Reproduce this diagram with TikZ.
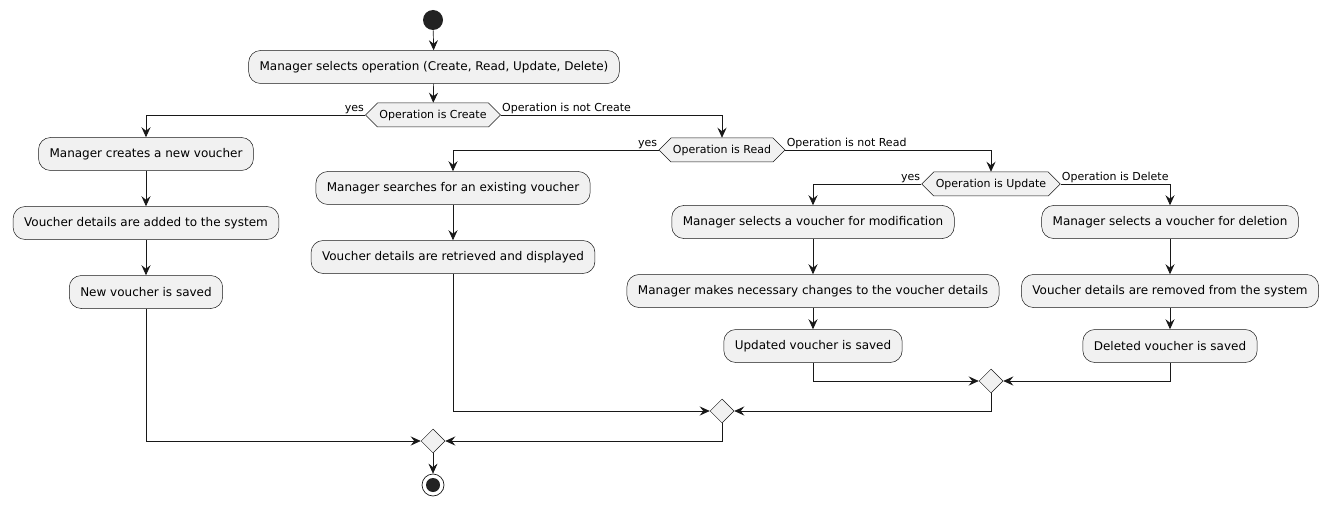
\documentclass[tikz,border=0pt]{standalone}
\usepackage{fontspec}
\setmainfont{DejaVu Sans}
\usepackage{tikz}
\usetikzlibrary{
	arrows.meta,
	calc,
	shapes.geometric,
	shapes.symbols,
	positioning
}
\definecolor{umlline}{HTML}{181818}
\definecolor{umlfill}{HTML}{F1F1F1}
\definecolor{umldot}{HTML}{222222}
\tikzset{every path/.append style={line width=0.7pt}}
\tikzset{
	act/.style={draw=umlline,fill=umlfill,rounded corners=12pt,line width=0.5pt,
		minimum height=33pt,inner xsep=11pt,font=\fontsize{12}{14}\selectfont},
	decide/.style={signal,signal to=west and east,signal pointer angle=90,
		draw=umlline,fill=umlfill,line width=0.5pt,minimum height=24pt,inner xsep=2pt,
		inner ysep=0pt,font=\fontsize{11}{13}\selectfont},
	merge/.style={diamond,draw=umlline,fill=umlfill,line width=0.5pt,
		minimum width=24pt,minimum height=24pt,inner sep=0pt},
	flow/.style={draw=umlline,-{Stealth[length=10pt,width=9pt,inset=3.5pt]}},
	lbl/.style={font=\fontsize{11}{13}\selectfont,inner sep=1pt}
}
\newcommand{\umlAct}[3]{\node (#2) at #1 [act]{#3};}

\begin{document}
\begin{tikzpicture}[x=1pt,y=-1pt]
	\useasboundingbox (0,0) rectangle (1330,505);
	
	\node (start) at (433,20) [circle,fill=umldot,minimum size=20pt,inner sep=0pt]{};
	\umlAct{(434,67)}{sel}{Manager selects operation (Create, Read, Update, Delete)}
	\node (d1) at (433,115) [decide]{Operation is Create};
	\draw[flow] (start) -- (sel);
	\draw[flow] (sel) -- (d1);
	
	% Create
	\umlAct{(146,154)}{c1}{Manager creates a new voucher}
	\umlAct{(146,223)}{c2}{Voucher details are added to the system}
	\umlAct{(146,292)}{c3}{New voucher is saved}
	\draw[flow] (d1.west) -| (c1.north);
	\node[lbl,anchor=south east] at (d1.west) {yes};
	\draw[flow] (c1) -- (c2);
	\draw[flow] (c2) -- (c3);
	
	% Read
	\node (d2) at (722,150) [decide]{Operation is Read};
	\draw[flow] (d1.east) -| (d2.north);
	\node[lbl,anchor=south west] at (d1.east) {Operation is not Create};
	\umlAct{(453,188)}{r1}{Manager searches for an existing voucher}
	\umlAct{(453,257)}{r2}{Voucher details are retrieved and displayed}
	\draw[flow] (d2.west) -| (r1.north);
	\node[lbl,anchor=south east] at (d2.west) {yes};
	\draw[flow] (r1) -- (r2);
	
	% Update
	\node (d3) at (991,184) [decide]{Operation is Update};
	\draw[flow] (d2.east) -| (d3.north);
	\node[lbl,anchor=south west] at (d2.east) {Operation is not Read};
	\umlAct{(813,222)}{u1}{Manager selects a voucher for modification}
	\umlAct{(813,291)}{u2}{Manager makes necessary changes to the voucher details}
	\umlAct{(813,346)}{u3}{Updated voucher is saved}
	\draw[flow] (d3.west) -| (u1.north);
	\node[lbl,anchor=south east] at (d3.west) {yes};
	\draw[flow] (u1) -- (u2);
	\draw[flow] (u2) -- (u3);
	
	% Delete
	\umlAct{(1170,222)}{x1}{Manager selects a voucher for deletion}
	\umlAct{(1170,291)}{x2}{Voucher details are removed from the system}
	\umlAct{(1170,346)}{x3}{Deleted voucher is saved}
	\draw[flow] (d3.east) -| (x1.north);
	\node[lbl,anchor=south west] at (d3.east) {Operation is Delete};
	\draw[flow] (x1) -- (x2);
	\draw[flow] (x2) -- (x3);
	
	% merges
	\node (m1) at (991,381) [merge]{};
	\node (m2) at (722,411) [merge]{};
	\node (m3) at (433,441) [merge]{};
	\draw[flow] (u3.south) |- (m1.west);
	\draw[flow] (x3.south) |- (m1.east);
	\draw[flow] (r2.south) |- (m2.west);
	\draw[flow] (m1.south) |- (m2.east);
	\draw[flow] (c3.south) |- (m3.west);
	\draw[flow] (m2.south) |- (m3.east);
	
	\node (stop) at (433,485) [circle,draw=umlline,line width=0.7pt,minimum size=22pt,inner sep=0pt]{};
	\fill[umldot] (stop) circle (7pt);
	\draw[flow] (m3) -- (stop);
\end{tikzpicture}
\end{document}
